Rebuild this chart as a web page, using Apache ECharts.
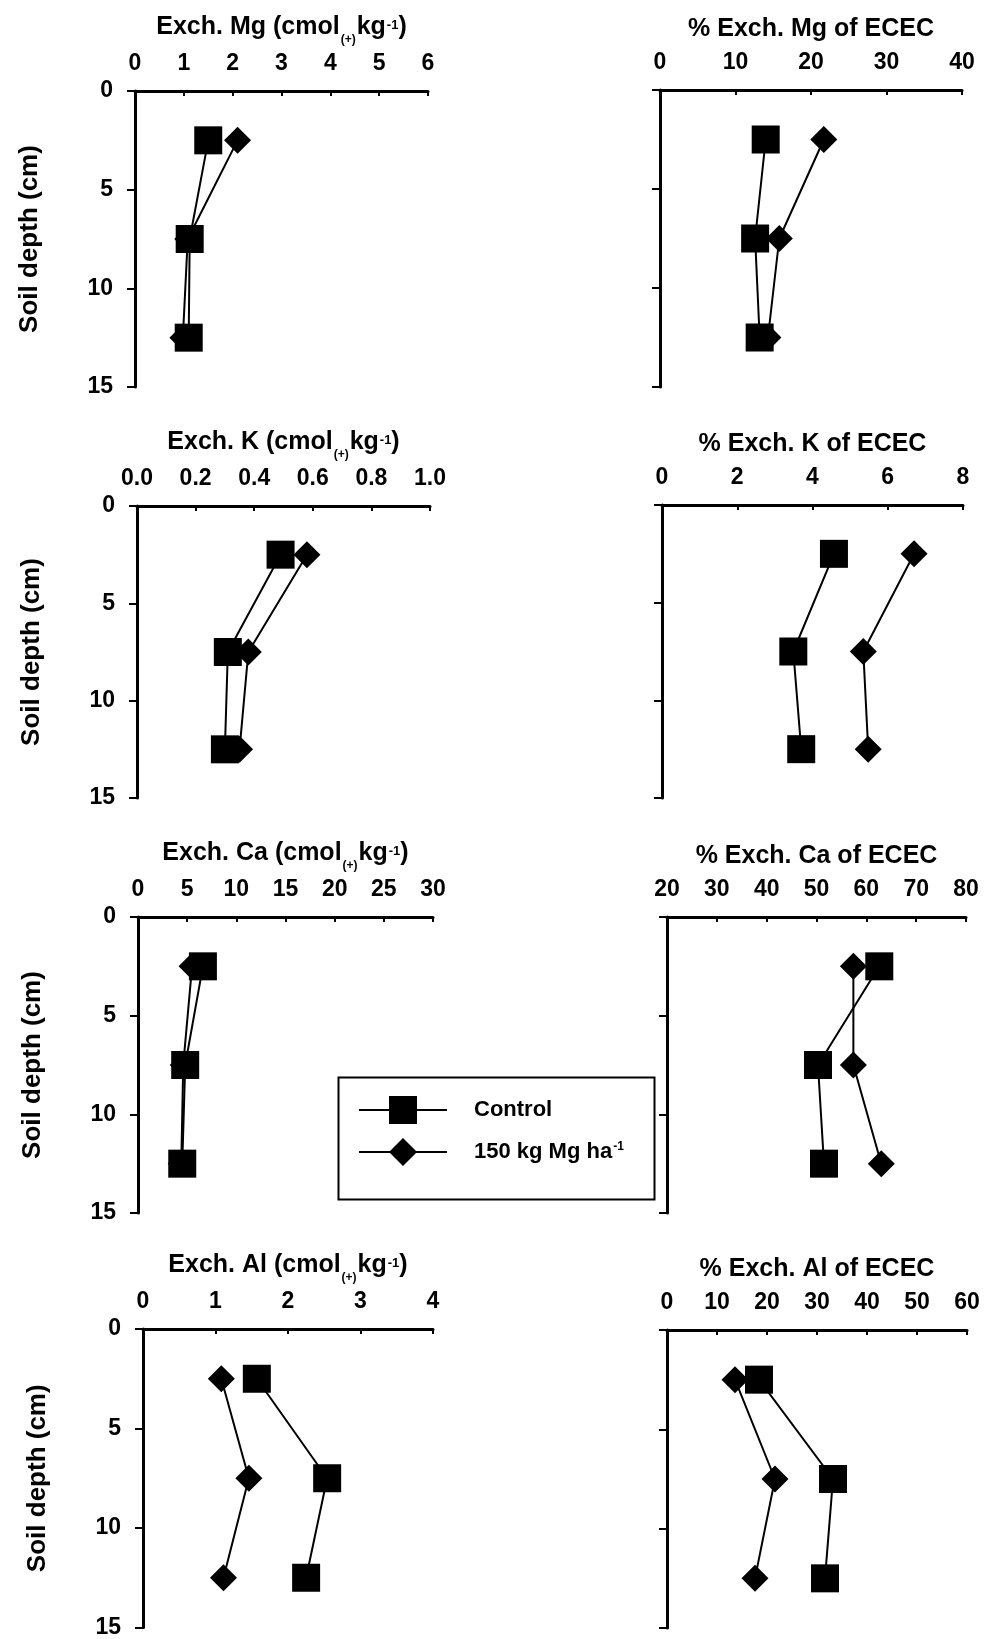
<!DOCTYPE html>
<html>
<head>
<meta charset="utf-8">
<script src="https://cdn.jsdelivr.net/npm/echarts@6/dist/echarts.min.js"></script>
<style>
  html, body { margin: 0; padding: 0; background: #fff; }
  #main { width: 989px; height: 1639px; }
</style>
</head>
<body>
<div id="main"></div>
<script>
  // depths (cm) of the three sampled layers
  var depth = [2.5, 7.5, 12.5];

  // Control / 150 kg Mg ha-1, top to bottom
  var mgCtrl = [1.5, 1.12, 1.1],     mgTrt = [2.1, 1.08, 0.98];
  var mgPctCtrl = [14.0, 12.6, 13.2], mgPctTrt = [21.7, 15.8, 14.3];
  var kCtrl = [0.49, 0.31, 0.30],    kTrt = [0.58, 0.38, 0.35];
  var kPctCtrl = [4.57, 3.49, 3.7],   kPctTrt = [6.7, 5.35, 5.48];
  var caCtrl = [6.6, 4.8, 4.5],      caTrt = [5.5, 4.6, 4.4];
  var caPctCtrl = [62.6, 50.3, 51.5], caPctTrt = [57.4, 57.4, 63.0];
  var alCtrl = [1.57, 2.54, 2.25],   alTrt = [1.08, 1.46, 1.11];
  var alPctCtrl = [18.4, 33.2, 31.6], alPctTrt = [13.6, 21.6, 17.6];

  var seriesNames = ['Control', '150 kg Mg ha-1'];

  // x-axis titles (rich text tokens), ranges and steps per panel
  var titles = [
    '{a|Exch. Mg (cmol}{sub|(+)}{a|kg}{sup|-1}{a|)}',
    '{a|% Exch. Mg of ECEC}',
    '{a|Exch. K (cmol}{sub|(+)}{a|kg}{sup|-1}{a|)}',
    '{a|% Exch. K of ECEC}',
    '{a|Exch. Ca (cmol}{sub|(+)}{a|kg}{sup|-1}{a|)}',
    '{a|% Exch. Ca of ECEC}',
    '{a|Exch. Al (cmol}{sub|(+)}{a|kg}{sup|-1}{a|)}',
    '{a|% Exch. Al of ECEC}'
  ];
  var xMin = [0, 0, 0, 0, 0, 20, 0, 0];
  var xMax = [6, 40, 1, 8, 30, 80, 4, 60];
  var xStep = [1, 10, 0.2, 2, 5, 10, 1, 10];
  var depthTicks = [0, 15, 5];

  var ctrlData = [mgCtrl, mgPctCtrl, kCtrl, kPctCtrl, caCtrl, caPctCtrl, alCtrl, alPctCtrl];
  var trtData = [mgTrt, mgPctTrt, kTrt, kPctTrt, caTrt, caPctTrt, alTrt, alPctTrt];

  // panel boxes: left, top, width, height
  var boxes = [
    [135, 91, 293, 296], [660, 90, 302, 297],
    [137, 506, 293, 292], [662, 505, 301, 293],
    [138, 917, 295, 296], [667, 917, 299, 296],
    [143, 1329, 290, 299], [667, 1330, 300, 298]
  ];

  var font = "'Liberation Sans', Arial, sans-serif";

  var titleRich = {
    a: { fontSize: 25, fontWeight: 'bold', color: '#000', fontFamily: font, lineHeight: 28, verticalAlign: 'top' },
    sub: { fontSize: 12, fontWeight: 'bold', color: '#000', fontFamily: font, verticalAlign: 'bottom', padding: [19, 1, 0, 1] },
    sup: { fontSize: 13, fontWeight: 'bold', color: '#000', fontFamily: font, verticalAlign: 'top', padding: [4, 0, 0, 1] }
  };

  function pairs(xs) {
    return xs.map(function (v, k) { return [v, depth[k]]; });
  }

  var grids = [], xAxes = [], yAxes = [], series = [];

  for (var i = 0; i < 8; i++) {
    var b = boxes[i];
    var isLeft = i % 2 === 0;
    grids.push({ left: b[0], top: b[1], width: b[2], height: b[3] });

    xAxes.push({
      type: 'value',
      gridIndex: i,
      position: 'top',
      min: xMin[i],
      max: xMax[i],
      interval: xStep[i],
      name: titles[i],
      nameLocation: 'middle',
      nameGap: 45,
      nameTextStyle: { rich: titleRich },
      axisLine: { onZero: false, lineStyle: { color: '#000', width: 3 } },
      axisTick: { inside: true, length: 5, lineStyle: { color: '#000', width: 2 } },
      axisLabel: {
        color: '#000',
        fontSize: 23,
        fontWeight: 'bold',
        fontFamily: font,
        margin: 16,
        formatter: i === 2 ? function (v) { return v.toFixed(1); } : null
      },
      splitLine: { show: false }
    });

    yAxes.push({
      type: 'value',
      gridIndex: i,
      inverse: true,
      min: depthTicks[0],
      max: depthTicks[1],
      interval: depthTicks[2],
      name: isLeft ? 'Soil depth (cm)' : '',
      nameLocation: 'middle',
      nameRotate: 90,
      nameGap: 92,
      nameTextStyle: { color: '#000', fontSize: 26, fontWeight: 'bold', fontFamily: font },
      axisLine: { show: true, onZero: false, lineStyle: { color: '#000', width: 3 } },
      axisTick: { show: true, length: 8, lineStyle: { color: '#000', width: 2 } },
      axisLabel: {
        show: isLeft,
        color: '#000',
        fontSize: 23,
        fontWeight: 'bold',
        fontFamily: font,
        margin: 22
      },
      splitLine: { show: false }
    });

    series.push({
      name: seriesNames[1],
      type: 'line',
      xAxisIndex: i,
      yAxisIndex: i,
      data: pairs(trtData[i]),
      symbol: 'diamond',
      symbolSize: 27,
      lineStyle: { color: '#000', width: 2 },
      itemStyle: { color: '#000' },
      z: 2
    });
    series.push({
      name: seriesNames[0],
      type: 'line',
      xAxisIndex: i,
      yAxisIndex: i,
      data: pairs(ctrlData[i]),
      symbol: 'rect',
      symbolSize: 28,
      lineStyle: { color: '#000', width: 2 },
      itemStyle: { color: '#000' },
      z: 3
    });
  }

  var chart = echarts.init(document.getElementById('main'));
  chart.setOption({
    backgroundColor: '#fff',
    animation: false,
    grid: grids,
    xAxis: xAxes,
    yAxis: yAxes,
    legend: {
      data: seriesNames,
      orient: 'vertical',
      left: 358,
      top: 1096,
      padding: 0,
      itemWidth: 88,
      itemHeight: 35,
      itemGap: 14,
      selectedMode: false,
      formatter: function (name) {
        return name === 'Control' ? '{a|Control}' : '{a|150 kg Mg ha}{sup|-1}';
      },
      textStyle: {
        padding: [0, 0, 0, 22],
        rich: {
          a: { fontSize: 22, fontWeight: 'bold', color: '#000', fontFamily: font },
          sup: { fontSize: 12, fontWeight: 'bold', color: '#000', fontFamily: font, verticalAlign: 'top', padding: [0, 0, 0, 1] }
        }
      }
    },
    graphic: [{
      type: 'rect',
      left: 336,
      top: 1075,
      shape: { width: 316, height: 122 },
      style: { fill: null, stroke: '#000', lineWidth: 2 },
      z: 0
    }],
    series: series
  });
</script>
</body>
</html>
